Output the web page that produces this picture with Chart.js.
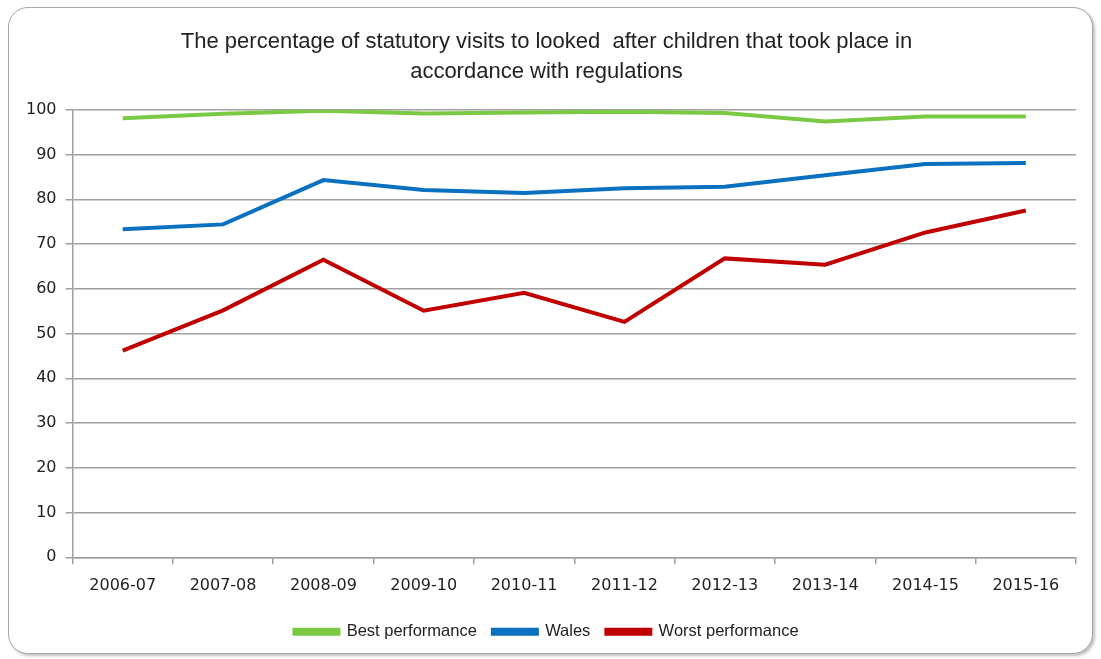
<!DOCTYPE html>
<html>
<head>
<meta charset="utf-8">
<script src="https://cdn.jsdelivr.net/npm/chart.js@4"></script>
<style>
  body { margin: 0; background: #fff; }
  #box {
    position: absolute; left: 8px; top: 7px; width: 1083px; height: 645px;
    border: 1.5px solid #a6a6a6; border-radius: 20px; background: #fff;
    box-shadow: 2px 2px 3px rgba(0,0,0,0.25);
  }
  canvas { display: block; }
</style>
</head>
<body>
<div id="box"><canvas id="chart" width="1083" height="645"></canvas></div>
<script>
const years = ['2006-07', '2007-08', '2008-09', '2009-10', '2010-11', '2011-12', '2012-13', '2013-14', '2014-15', '2015-16'];

const best = [98.1, 99.1, 99.8, 99.2, 99.4, 99.6, 99.3, 97.4, 98.5, 98.5];
const wales = [73.3, 74.4, 84.3, 82.1, 81.4, 82.5, 82.8, 85.4, 87.9, 88.1];
const worst = [46.2, 55.2, 66.5, 55.1, 59.1, 52.6, 66.8, 65.4, 72.6, 77.5];

const titleLines = ['The percentage of statutory visits to looked  after children that took place in', 'accordance with regulations'];

const gridColor = '#a0a0a0';
const textColor = '#222';

const ctx = document.getElementById('chart').getContext('2d');

new Chart(ctx, {
    type: 'line',
    data: {
        labels: years,
        datasets: [
            { label: 'Best performance', data: best, borderColor: '#7ac943', backgroundColor: '#7ac943' },
            { label: 'Wales', data: wales, borderColor: '#0a70c0', backgroundColor: '#0a70c0' },
            { label: 'Worst performance', data: worst, borderColor: '#c00000', backgroundColor: '#c00000' }
        ].map(d => Object.assign(d, { borderWidth: 4, pointRadius: 0, tension: 0, fill: false }))
    },
    options: {
        responsive: false,
        animation: false,
        layout: { padding: { left: 8, right: 16, top: 4, bottom: 3 } },
        plugins: {
            title: {
                display: true,
                text: titleLines,
                color: textColor,
                font: { family: 'Liberation Sans', size: 22, weight: 'normal', lineHeight: 1.36 },
                padding: { top: 15, bottom: 23 }
            },
            legend: {
                position: 'bottom',
                labels: {
                    color: textColor,
                    font: { family: 'Liberation Sans', size: 16.5 },
                    boxWidth: 44,
                    boxHeight: 4,
                    padding: 16
                }
            },
            tooltip: { enabled: false }
        },
        scales: {
            x: {
                offset: true,
                grid: { offset: true, drawOnChartArea: false, drawTicks: true, tickLength: 7, color: gridColor, lineWidth: 1.5 },
                border: { color: gridColor, width: 1.5 },
                ticks: { color: textColor, font: { family: 'DejaVu Sans', size: 16 }, padding: 12, maxRotation: 0 }
            },
            y: {
                min: 0,
                max: 100,
                ticks: { stepSize: 10, color: textColor, font: { family: 'DejaVu Sans', size: 16 }, padding: 9 },
                grid: { color: gridColor, lineWidth: 1.5, tickLength: 7 },
                border: { color: gridColor, width: 1.5 }
            }
        }
    }
});
</script>
</body>
</html>
